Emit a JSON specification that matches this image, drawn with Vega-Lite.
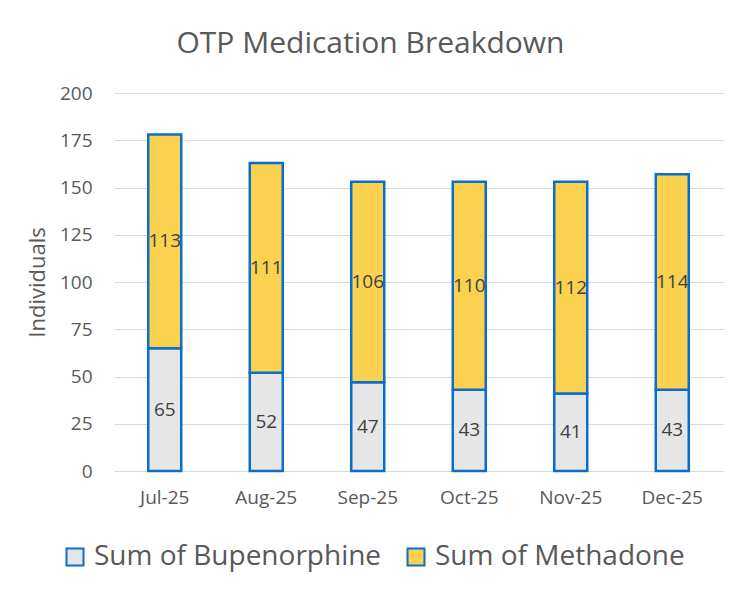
{
  "$schema": "https://vega.github.io/schema/vega-lite/v6.json",
  "width": 609,
  "height": 378,
  "autosize": "none",
  "padding": {"left": 114, "top": 93, "right": 32, "bottom": 125},
  "background": "white",
  "title": {
    "text": "OTP Medication Breakdown",
    "font": "Open Sans",
    "fontSize": 30,
    "fontWeight": "normal",
    "color": "#595959",
    "anchor": "middle",
    "dx": -48,
    "offset": 25
  },
  "data": {
    "values": [
      {"month": "Jul-25", "drug": "Sum of Bupenorphine", "value": 65},
      {"month": "Jul-25", "drug": "Sum of Methadone", "value": 113},
      {"month": "Aug-25", "drug": "Sum of Bupenorphine", "value": 52},
      {"month": "Aug-25", "drug": "Sum of Methadone", "value": 111},
      {"month": "Sep-25", "drug": "Sum of Bupenorphine", "value": 47},
      {"month": "Sep-25", "drug": "Sum of Methadone", "value": 106},
      {"month": "Oct-25", "drug": "Sum of Bupenorphine", "value": 43},
      {"month": "Oct-25", "drug": "Sum of Methadone", "value": 110},
      {"month": "Nov-25", "drug": "Sum of Bupenorphine", "value": 41},
      {"month": "Nov-25", "drug": "Sum of Methadone", "value": 112},
      {"month": "Dec-25", "drug": "Sum of Bupenorphine", "value": 43},
      {"month": "Dec-25", "drug": "Sum of Methadone", "value": 114}
    ]
  },
  "transform": [
    {"stack": "value", "groupby": ["month"], "sort": [{"field": "drug", "order": "ascending"}], "as": ["v0", "v1"]},
    {"calculate": "(datum.v0 + datum.v1) / 2", "as": "vmid"}
  ],
  "encoding": {
    "x": {
      "field": "month",
      "type": "nominal",
      "sort": null,
      "title": null,
      "scale": {"paddingInner": 0.675, "paddingOuter": 0.3375},
      "axis": {
        "labelAngle": 0,
        "labelFont": "Open Sans",
        "labelFontSize": 19,
        "labelColor": "#595959",
        "labelPadding": 17,
        "ticks": false,
        "domainColor": "#D9D9D9",
        "domainWidth": 1
      }
    }
  },
  "layer": [
    {
      "mark": {"type": "bar", "stroke": "#0A6FCC", "strokeWidth": 2.5},
      "encoding": {
        "y": {
          "field": "v0",
          "type": "quantitative",
          "scale": {"domain": [0, 200]},
          "title": "Individuals",
          "axis": {
            "values": [0, 25, 50, 75, 100, 125, 150, 175, 200],
            "labelFont": "Open Sans",
            "labelFontSize": 19,
            "labelColor": "#595959",
            "labelPadding": 22,
            "ticks": false,
            "domain": false,
            "gridColor": "#D9D9D9",
            "gridWidth": 1,
            "titleFont": "Open Sans",
            "titleFontSize": 22,
            "titleFontWeight": "normal",
            "titleColor": "#595959",
            "titlePadding": 10
          }
        },
        "y2": {"field": "v1"},
        "color": {
          "field": "drug",
          "type": "nominal",
          "title": null,
          "scale": {
            "domain": ["Sum of Bupenorphine", "Sum of Methadone"],
            "range": ["#E6E6E6", "#FAD250"]
          },
          "legend": {
            "orient": "none",
            "direction": "horizontal",
            "columns": 2,
            "legendX": -53,
            "legendY": 450,
            "symbolType": "square",
            "symbolSize": 289,
            "symbolStrokeColor": "#0A6FCC",
            "symbolStrokeWidth": 2,
            "symbolOpacity": 1,
            "labelFont": "Open Sans",
            "labelFontSize": 28,
            "labelColor": "#595959",
            "labelOffset": 5,
            "labelLimit": 400,
            "columnPadding": 20
          }
        }
      }
    },
    {
      "mark": {"type": "text", "font": "Open Sans", "fontSize": 19, "color": "#404040", "baseline": "middle"},
      "encoding": {
        "y": {"field": "vmid", "type": "quantitative"},
        "text": {"field": "value", "type": "quantitative"}
      }
    }
  ],
  "config": {"view": {"stroke": null}}
}
